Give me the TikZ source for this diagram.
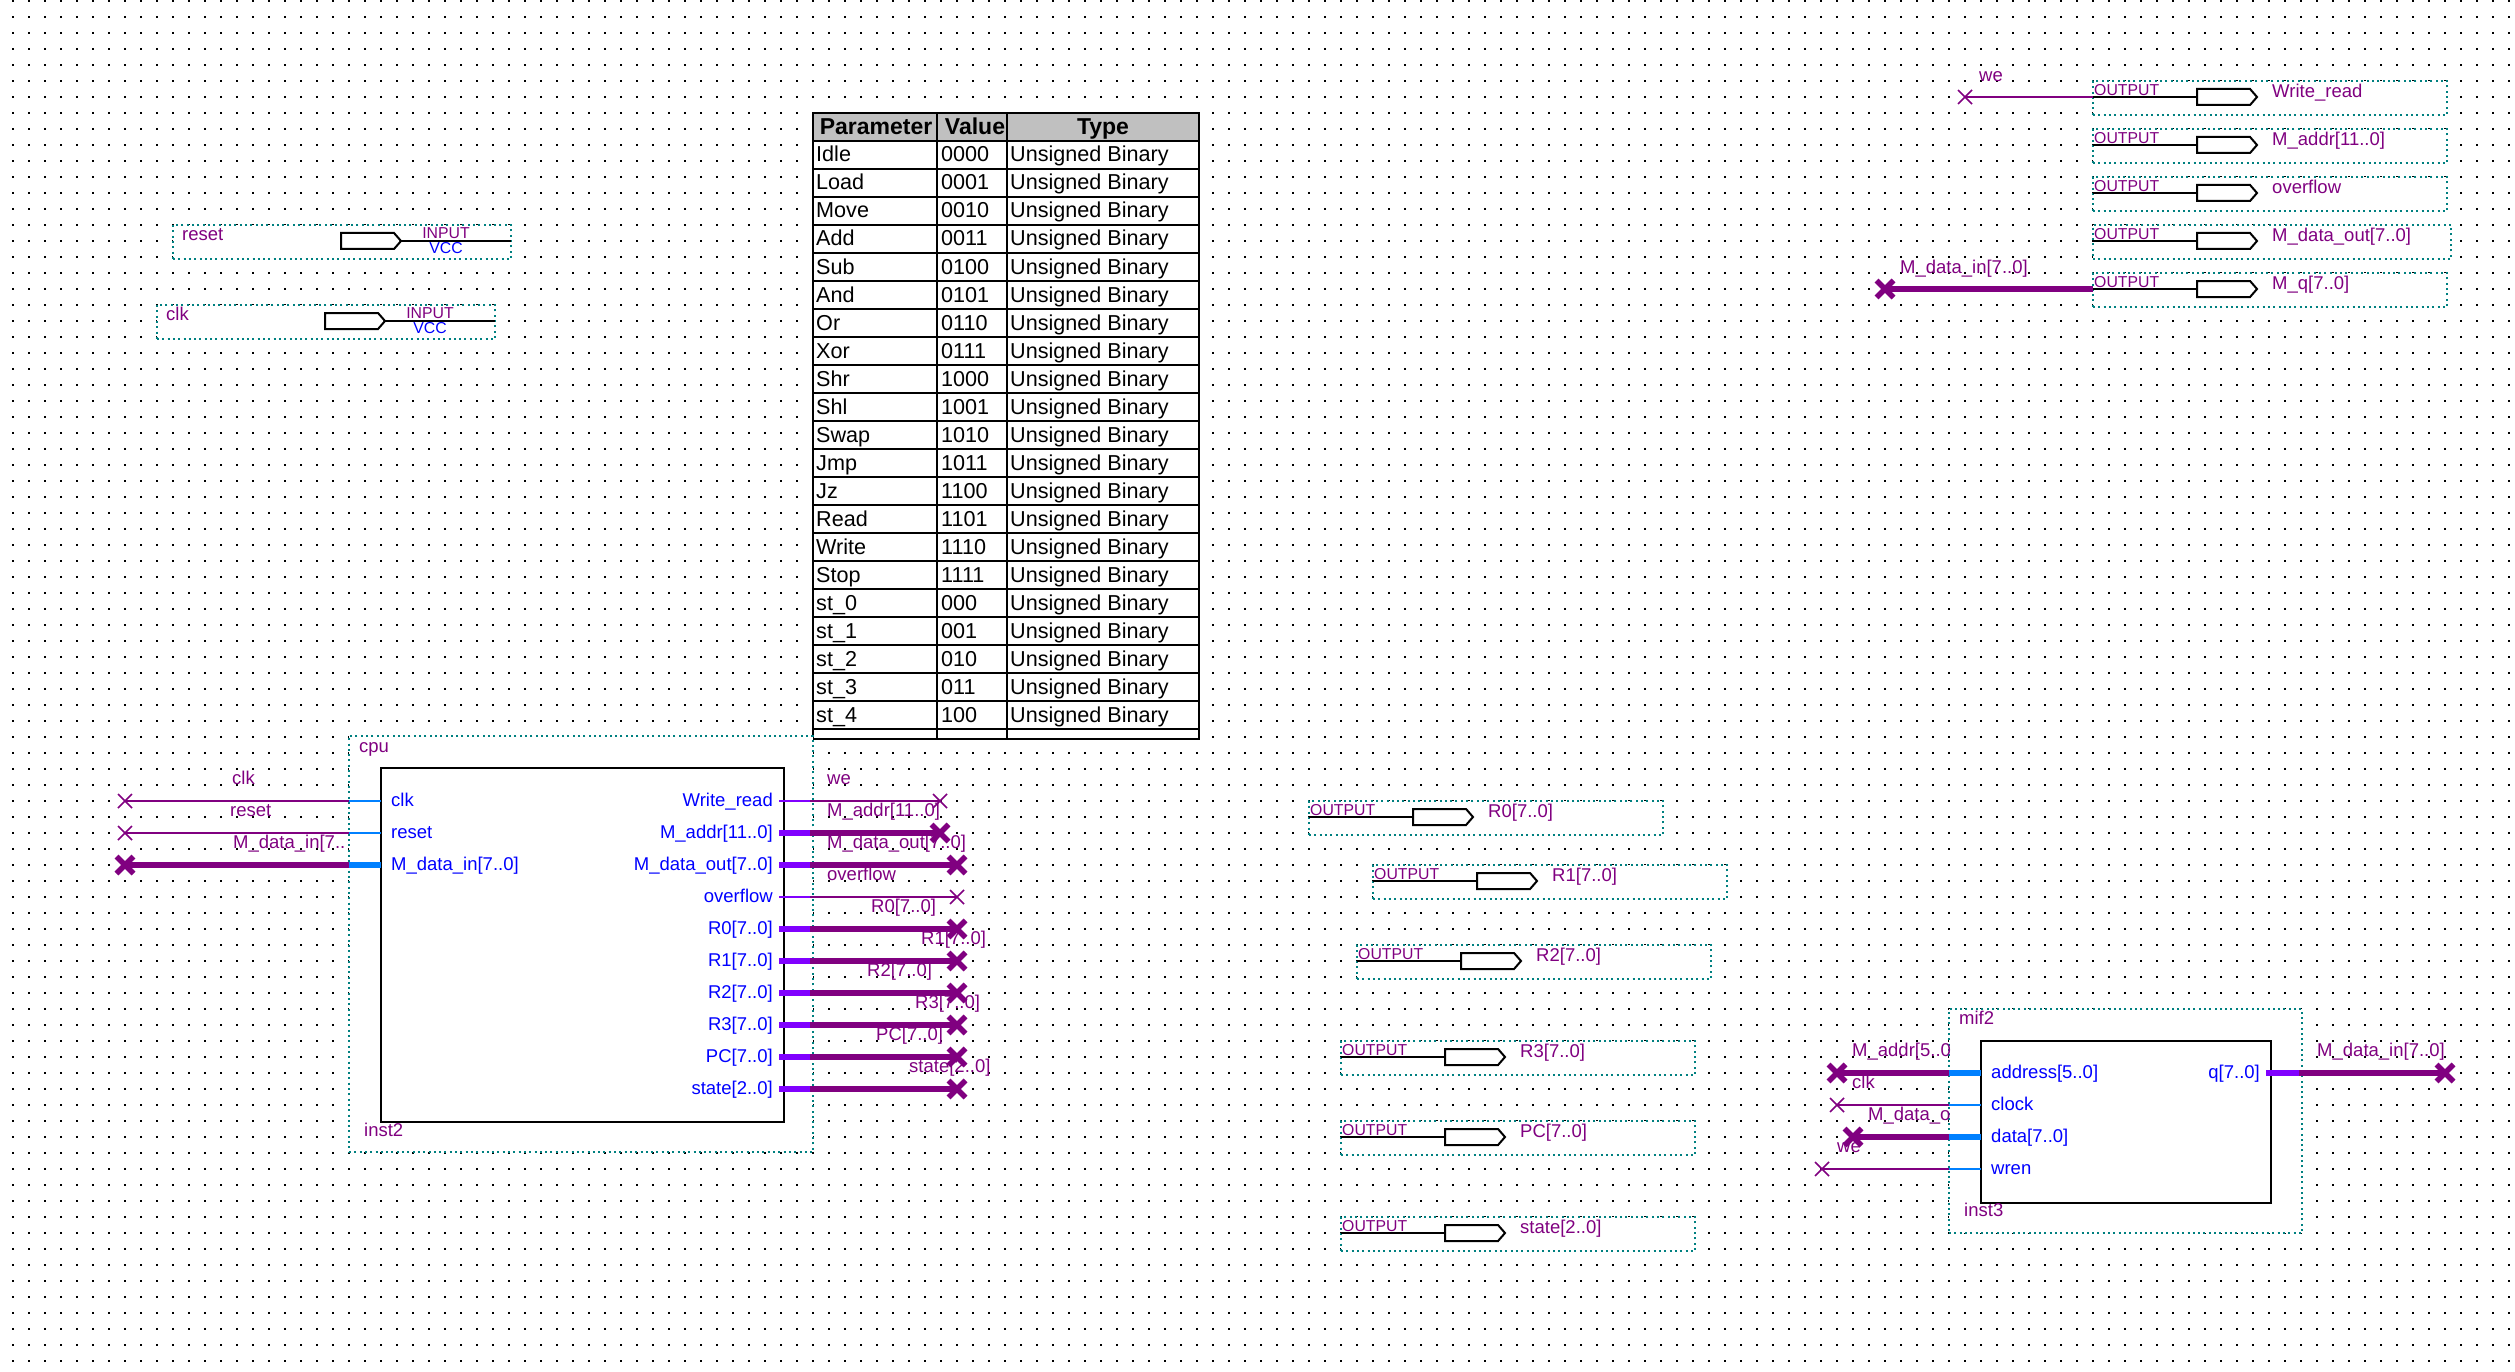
\documentclass[tikz,border=0pt]{standalone}
\usepackage{fontspec}
\setmainfont{Liberation Sans}
\usetikzlibrary{shapes.symbols,shapes.misc}
\definecolor{netpurple}{HTML}{800080}
\definecolor{pinblue}{HTML}{0080FF}
\definecolor{pinviolet}{HTML}{8000FF}
\definecolor{frameteal}{HTML}{008080}
\definecolor{headgray}{HTML}{C0C0C0}
\tikzset{
  netframe/.style={draw=frameteal,fill=white,line width=2pt,dash pattern=on 2pt off 3.3pt,inner sep=0pt,outer sep=0pt,anchor=north west},
  blockbody/.style={draw=black,fill=white,line width=2.6pt,inner sep=0pt,outer sep=0pt,anchor=north west},
  pinbody/.style={signal,signal to=east,signal pointer angle=98,draw=black,fill=white,line width=2pt,inner sep=0pt,outer sep=0pt,minimum width=60pt,minimum height=16pt,anchor=west},
  pinline/.style={draw=black,line width=2pt},
  thinwire/.style={line width=2pt},
  buswire/.style={line width=5.5pt},
  thinx/.style={cross out,draw=netpurple,line width=1.5pt,inner sep=0pt,outer sep=0pt,minimum size=14pt},
  busx/.style={cross out,draw=netpurple,line width=5.5pt,inner sep=0pt,outer sep=0pt,minimum size=17pt},
  nettext/.style={text=netpurple,font=\fontsize{18.5}{20}\selectfont,inner sep=0pt,text height=13.5pt,text depth=4pt,anchor=west},
  porttext/.style={text=blue,font=\fontsize{18.5}{20}\selectfont,inner sep=0pt,text height=13.5pt,text depth=4pt},
  tagtext/.style={text=netpurple,font=\fontsize{15.8}{17}\selectfont,inner sep=0pt},
  cell/.style={text=black,font=\fontsize{21.6}{23}\selectfont,inner sep=0pt,text height=15.5pt,text depth=4.5pt,anchor=west},
  headcell/.style={text=black,font=\fontsize{23}{25}\bfseries\selectfont,inner sep=0pt,text height=16.5pt,text depth=5pt},
}
% id, frame left, wire y, frame width, net name
\newcommand{\outpin}[5]{
  \node[netframe,minimum width=#4pt,minimum height=34pt] (#1frame) at (#2,#3-16) {};
  \node[pinbody] (#1body) at (#2+104,#3) {};
  \coordinate (#1wire) at (#1frame.west |- #1body.west);
  \draw[pinline] (#1wire) -- (#1body.west);
  \node[tagtext,anchor=west] (#1tag) at (#2+1,#3-7) {OUTPUT};
  \node[nettext] (#1name) at (#2+179,#3-4) {#5};
}
% id, frame left, wire y, net name
\newcommand{\inpin}[4]{
  \node[netframe,minimum width=338pt,minimum height=34pt] (#1frame) at (#2,#3-16) {};
  \node[pinbody] (#1body) at (#2+168,#3) {};
  \coordinate (#1wire) at (#1frame.east |- #1body.east);
  \draw[pinline] (#1body.east) -- (#1wire);
  \node[tagtext] (#1tag) at (#2+273,#3-8) {INPUT};
  \node[tagtext,text=blue] (#1vcc) at (#2+273,#3+7) {VCC};
  \node[nettext] (#1name) at (#2+9,#3-5) {#4};
}
\begin{document}
\begin{tikzpicture}[x=1pt,y=-1pt]
\fill[white] (0,0) rectangle (2515,1372);
\useasboundingbox (0,0) rectangle (2515,1372);
% Drawing the dot grid
\foreach \doty in {1,17,...,1361}{\draw[black,line width=2pt,dash pattern=on 2pt off 14pt] (12,\doty) -- (2511,\doty);}
% Drawing input pins
\inpin{reset}{173}{241}{reset}
\inpin{clk}{157}{321}{clk}
% Drawing output pins
\outpin{wr}{2093}{97}{354}{Write\_read}
\outpin{addr}{2093}{145}{354}{M\_addr[11..0]}
\outpin{ovf}{2093}{193}{354}{overflow}
\outpin{dout}{2093}{241}{358}{M\_data\_out[7..0]}
\outpin{mq}{2093}{289}{354}{M\_q[7..0]}
\outpin{rzero}{1309}{817}{354}{R0[7..0]}
\outpin{rone}{1373}{881}{354}{R1[7..0]}
\outpin{rtwo}{1357}{961}{354}{R2[7..0]}
\outpin{rthree}{1341}{1057}{354}{R3[7..0]}
\outpin{pc}{1341}{1137}{354}{PC[7..0]}
\outpin{state}{1341}{1233}{354}{state[2..0]}
% Wires on the output pins
\node[nettext,anchor=center] (welabel) at (1991,77) {we};
\node[nettext] (dinlabel) at (1900,269) {M\_data\_in[7..0]};
\node[thinx] (wex) at (1965,97) {};
\node[busx] (dinx) at (1885,289) {};
\draw[netpurple,thinwire] (wex.center) -- (wrwire);
\draw[netpurple,buswire] (dinx.center) -- (mqwire);
% Drawing the parameter table
\fill[white] (813,113) rectangle (1199,739);
\fill[headgray] (813,113) rectangle (1199,141);
\draw[black,line width=2pt] (813,113) rectangle (1199,739);
\foreach \rowy in {141,169,...,729}{\draw[black,line width=2pt] (813,\rowy) -- (1199,\rowy);}
\draw[black,line width=2pt] (937,113) -- (937,739) (1007,113) -- (1007,739);
\node[headcell] (headname) at (876,129) {Parameter};
\node[headcell] (headvalue) at (975,129) {Value};
\node[headcell] (headtype) at (1103,129) {Type};
\foreach \pname/\pvalue [count=\i] in {Idle/0000,Load/0001,Move/0010,Add/0011,Sub/0100,And/0101,Or/0110,Xor/0111,Shr/1000,Shl/1001,Swap/1010,Jmp/1011,Jz/1100,Read/1101,Write/1110,Stop/1111,st\_0/000,st\_1/001,st\_2/010,st\_3/011,st\_4/100}{
  \node[cell] (pname\i) at (816,128.5+28*\i) {\pname};
  \node[cell] (pvalue\i) at (941,128.5+28*\i) {\pvalue};
  \node[cell] (ptype\i) at (1010,128.5+28*\i) {Unsigned Binary};
}
% Drawing cpu
\node[netframe,minimum width=464pt,minimum height=416pt] (cpuframe) at (349,736) {};
\node[blockbody,minimum width=403pt,minimum height=354pt] (cpublock) at (381,768) {};
\node[nettext] (cpuname) at (359,748) {cpu};
\node[nettext] (cpuinst) at (364,1132) {inst2};
% cpu inputs
\foreach \pid/\ptext/\py/\pwire/\pmark/\ntext/\nx/\ny in {iclk/clk/801/thinwire/thinx/clk/232/780,irst/reset/833/thinwire/thinx/reset/230/812,idin/M\_data\_in[7..0]/865/buswire/busx/M\_data\_in[7../233/844}{
  \node[nettext] (\pid net) at (\nx,\ny) {\ntext};
  \node[\pmark] (\pid x) at (125,\py) {};
  \node[porttext,anchor=west] (\pid port) at (391,\py+1) {\ptext};
  \draw[netpurple,\pwire] (\pid x.center) -- (cpuframe.west |- \pid x.center);
  \draw[pinblue,\pwire] (cpuframe.west |- \pid x.center) -- (cpublock.west |- \pid x.center);
}
% cpu outputs
\foreach \pid/\ptext/\py/\pwire/\pmark/\xend/\ntext/\nx in {owr/Write\_read/801/thinwire/thinx/940/we/827,oaddr/M\_addr[11..0]/833/buswire/busx/940/M\_addr[11..0]/827,odout/M\_data\_out[7..0]/865/buswire/busx/957/M\_data\_out[7..0]/827,oovf/overflow/897/thinwire/thinx/957/overflow/827,orz/R0[7..0]/929/buswire/busx/957/R0[7..0]/871,oro/R1[7..0]/961/buswire/busx/957/R1[7..0]/921,ort/R2[7..0]/993/buswire/busx/957/R2[7..0]/867,orh/R3[7..0]/1025/buswire/busx/957/R3[7..0]/915,opc/PC[7..0]/1057/buswire/busx/957/PC[7..0]/876,ost/state[2..0]/1089/buswire/busx/957/state[2..0]/909}{
  \node[nettext] (\pid net) at (\nx,\py-21) {\ntext};
  \node[\pmark] (\pid x) at (\xend,\py) {};
  \node[porttext,anchor=east] (\pid port) at (773,\py+1) {\ptext};
  \draw[pinviolet,\pwire] ([xshift=-5pt]cpublock.east |- \pid x.center) -- ([xshift=-3pt]cpuframe.east |- \pid x.center);
  \draw[netpurple,\pwire] ([xshift=-3pt]cpuframe.east |- \pid x.center) -- (\pid x.center);
}
% Drawing mif2
\node[netframe,minimum width=353pt,minimum height=224pt] (memframe) at (1949,1009) {};
\node[blockbody,minimum width=290pt,minimum height=162pt] (memblock) at (1981,1041) {};
\node[nettext] (memname) at (1959,1020) {mif2};
\node[nettext] (meminst) at (1964,1212) {inst3};
\foreach \pid/\ptext/\py/\pwire/\pmark/\xend/\ntext/\nx in {maddr/address[5..0]/1073/buswire/busx/1837/M\_addr[5..0/1852,mclk/clock/1105/thinwire/thinx/1837/clk/1852,mdata/data[7..0]/1137/buswire/busx/1853/M\_data\_o/1868,mwren/wren/1169/thinwire/thinx/1822/we/1837}{
  \node[nettext] (\pid net) at (\nx,\py-21) {\ntext};
  \node[\pmark] (\pid x) at (\xend,\py) {};
  \node[porttext,anchor=west] (\pid port) at (1991,\py+1) {\ptext};
  \draw[netpurple,\pwire] (\pid x.center) -- (memframe.west |- \pid x.center);
  \draw[pinblue,\pwire] (memframe.west |- \pid x.center) -- (memblock.west |- \pid x.center);
}
\node[nettext] (mqnet) at (2317,1052) {M\_data\_in[7..0]};
\node[busx] (mqx) at (2445,1073) {};
\node[porttext,anchor=east] (mqport) at (2260,1074) {q[7..0]};
\draw[pinviolet,buswire] ([xshift=-5pt]memblock.east |- mqx.center) -- ([xshift=-3pt]memframe.east |- mqx.center);
\draw[netpurple,buswire] ([xshift=-3pt]memframe.east |- mqx.center) -- (mqx.center);
\end{tikzpicture}
\end{document}
